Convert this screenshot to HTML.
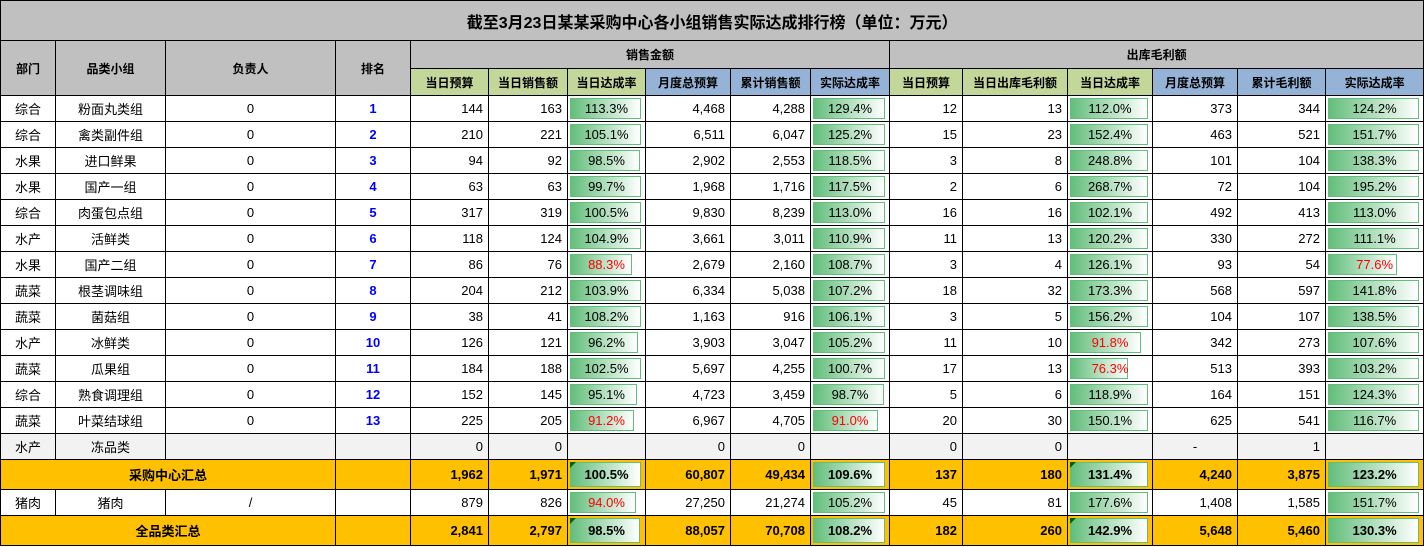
<!DOCTYPE html>
<html><head><meta charset="utf-8">
<style>
html,body{margin:0;padding:0;background:#fff;}
body{width:1424px;height:547px;overflow:hidden;font-family:"Liberation Sans","Noto Sans CJK SC",sans-serif;font-size:13px;color:#000;}
table{border-collapse:collapse;table-layout:fixed;width:1423px;}
td{border:1px solid #000;padding:0 5px;white-space:nowrap;overflow:hidden;box-sizing:border-box;text-align:right;height:26px;}
td.c{text-align:center;}
.t td{height:40px;background:#c0c0c0;font-size:16px;font-weight:bold;text-align:center;}
.h td{background:#c0c0c0;font-weight:bold;text-align:center;font-size:12px;height:28px;}
.h2 td{font-weight:bold;text-align:center;height:27px;font-size:12px;}
.g{background:#c4d79b !important;}
.bl{background:#95b3d7 !important;}
.rk{color:#0000ff;font-weight:bold;text-align:center;}
td.bar{position:relative;text-align:center;}
td.bar i{position:absolute;left:2px;top:2px;bottom:2px;width:calc(100% - 6px);background:linear-gradient(to right,#63be7b,#fff);border:1px solid #63be7b;box-sizing:border-box;}
td.bar span{position:relative;}
.r span{color:#ff0000;}
.gy td{background:#f2f2f2;}
.s td{background:#ffc000;font-weight:bold;height:30px;}
.s td.bar b{position:absolute;left:2px;top:2px;width:0;height:0;border-top:6px solid #006100;border-right:6px solid transparent;}
</style></head><body>
<table>
<colgroup>
<col style="width:55px"><col style="width:110px"><col style="width:170px"><col style="width:75px">
<col style="width:78px"><col style="width:79px"><col style="width:78px"><col style="width:85px"><col style="width:80px"><col style="width:79px">
<col style="width:73px"><col style="width:105px"><col style="width:85px"><col style="width:85px"><col style="width:88px"><col style="width:98px">
</colgroup>
<tr class="t"><td colspan="16">截至3月23日某某采购中心各小组销售实际达成排行榜（单位：万元）</td></tr>
<tr class="h"><td rowspan="2">部门</td><td rowspan="2">品类小组</td><td rowspan="2">负责人</td><td rowspan="2">排名</td><td colspan="6">销售金额</td><td colspan="6">出库毛利额</td></tr>
<tr class="h2"><td class="g">当日预算</td><td class="g">当日销售额</td><td class="g">当日达成率</td><td class="bl">月度总预算</td><td class="bl">累计销售额</td><td class="bl">实际达成率</td><td class="g">当日预算</td><td class="g">当日出库毛利额</td><td class="g">当日达成率</td><td class="bl">月度总预算</td><td class="bl">累计毛利额</td><td class="bl">实际达成率</td></tr>

<tr><td class="c">综合</td><td class="c">粉面丸类组</td><td class="c">0</td><td class="rk">1</td><td>144</td><td>163</td><td class="bar"><i></i><span>113.3%</span></td><td>4,468</td><td>4,288</td><td class="bar"><i></i><span>129.4%</span></td><td>12</td><td>13</td><td class="bar"><i></i><span>112.0%</span></td><td>373</td><td>344</td><td class="bar"><i></i><span>124.2%</span></td></tr>
<tr><td class="c">综合</td><td class="c">禽类副件组</td><td class="c">0</td><td class="rk">2</td><td>210</td><td>221</td><td class="bar"><i></i><span>105.1%</span></td><td>6,511</td><td>6,047</td><td class="bar"><i></i><span>125.2%</span></td><td>15</td><td>23</td><td class="bar"><i></i><span>152.4%</span></td><td>463</td><td>521</td><td class="bar"><i></i><span>151.7%</span></td></tr>
<tr><td class="c">水果</td><td class="c">进口鲜果</td><td class="c">0</td><td class="rk">3</td><td>94</td><td>92</td><td class="bar"><i style="width:calc(98.5% - 6px)"></i><span>98.5%</span></td><td>2,902</td><td>2,553</td><td class="bar"><i></i><span>118.5%</span></td><td>3</td><td>8</td><td class="bar"><i></i><span>248.8%</span></td><td>101</td><td>104</td><td class="bar"><i></i><span>138.3%</span></td></tr>
<tr><td class="c">水果</td><td class="c">国产一组</td><td class="c">0</td><td class="rk">4</td><td>63</td><td>63</td><td class="bar"><i style="width:calc(99.7% - 6px)"></i><span>99.7%</span></td><td>1,968</td><td>1,716</td><td class="bar"><i></i><span>117.5%</span></td><td>2</td><td>6</td><td class="bar"><i></i><span>268.7%</span></td><td>72</td><td>104</td><td class="bar"><i></i><span>195.2%</span></td></tr>
<tr><td class="c">综合</td><td class="c">肉蛋包点组</td><td class="c">0</td><td class="rk">5</td><td>317</td><td>319</td><td class="bar"><i></i><span>100.5%</span></td><td>9,830</td><td>8,239</td><td class="bar"><i></i><span>113.0%</span></td><td>16</td><td>16</td><td class="bar"><i></i><span>102.1%</span></td><td>492</td><td>413</td><td class="bar"><i></i><span>113.0%</span></td></tr>
<tr><td class="c">水产</td><td class="c">活鲜类</td><td class="c">0</td><td class="rk">6</td><td>118</td><td>124</td><td class="bar"><i></i><span>104.9%</span></td><td>3,661</td><td>3,011</td><td class="bar"><i></i><span>110.9%</span></td><td>11</td><td>13</td><td class="bar"><i></i><span>120.2%</span></td><td>330</td><td>272</td><td class="bar"><i></i><span>111.1%</span></td></tr>
<tr><td class="c">水果</td><td class="c">国产二组</td><td class="c">0</td><td class="rk">7</td><td>86</td><td>76</td><td class="bar r"><i style="width:calc(88.3% - 6px)"></i><span>88.3%</span></td><td>2,679</td><td>2,160</td><td class="bar"><i></i><span>108.7%</span></td><td>3</td><td>4</td><td class="bar"><i></i><span>126.1%</span></td><td>93</td><td>54</td><td class="bar r"><i style="width:calc(77.6% - 6px)"></i><span>77.6%</span></td></tr>
<tr><td class="c">蔬菜</td><td class="c">根茎调味组</td><td class="c">0</td><td class="rk">8</td><td>204</td><td>212</td><td class="bar"><i></i><span>103.9%</span></td><td>6,334</td><td>5,038</td><td class="bar"><i></i><span>107.2%</span></td><td>18</td><td>32</td><td class="bar"><i></i><span>173.3%</span></td><td>568</td><td>597</td><td class="bar"><i></i><span>141.8%</span></td></tr>
<tr><td class="c">蔬菜</td><td class="c">菌菇组</td><td class="c">0</td><td class="rk">9</td><td>38</td><td>41</td><td class="bar"><i></i><span>108.2%</span></td><td>1,163</td><td>916</td><td class="bar"><i></i><span>106.1%</span></td><td>3</td><td>5</td><td class="bar"><i></i><span>156.2%</span></td><td>104</td><td>107</td><td class="bar"><i></i><span>138.5%</span></td></tr>
<tr><td class="c">水产</td><td class="c">冰鲜类</td><td class="c">0</td><td class="rk">10</td><td>126</td><td>121</td><td class="bar"><i style="width:calc(96.2% - 6px)"></i><span>96.2%</span></td><td>3,903</td><td>3,047</td><td class="bar"><i></i><span>105.2%</span></td><td>11</td><td>10</td><td class="bar r"><i style="width:calc(91.8% - 6px)"></i><span>91.8%</span></td><td>342</td><td>273</td><td class="bar"><i></i><span>107.6%</span></td></tr>
<tr><td class="c">蔬菜</td><td class="c">瓜果组</td><td class="c">0</td><td class="rk">11</td><td>184</td><td>188</td><td class="bar"><i></i><span>102.5%</span></td><td>5,697</td><td>4,255</td><td class="bar"><i></i><span>100.7%</span></td><td>17</td><td>13</td><td class="bar r"><i style="width:calc(76.3% - 6px)"></i><span>76.3%</span></td><td>513</td><td>393</td><td class="bar"><i></i><span>103.2%</span></td></tr>
<tr><td class="c">综合</td><td class="c">熟食调理组</td><td class="c">0</td><td class="rk">12</td><td>152</td><td>145</td><td class="bar"><i style="width:calc(95.1% - 6px)"></i><span>95.1%</span></td><td>4,723</td><td>3,459</td><td class="bar"><i style="width:calc(98.7% - 6px)"></i><span>98.7%</span></td><td>5</td><td>6</td><td class="bar"><i></i><span>118.9%</span></td><td>164</td><td>151</td><td class="bar"><i></i><span>124.3%</span></td></tr>
<tr><td class="c">蔬菜</td><td class="c">叶菜结球组</td><td class="c">0</td><td class="rk">13</td><td>225</td><td>205</td><td class="bar r"><i style="width:calc(91.2% - 6px)"></i><span>91.2%</span></td><td>6,967</td><td>4,705</td><td class="bar r"><i style="width:calc(91% - 6px)"></i><span>91.0%</span></td><td>20</td><td>30</td><td class="bar"><i></i><span>150.1%</span></td><td>625</td><td>541</td><td class="bar"><i></i><span>116.7%</span></td></tr>
<tr class="gy"><td class="c">水产</td><td class="c">冻品类</td><td></td><td></td><td>0</td><td>0</td><td></td><td>0</td><td>0</td><td></td><td>0</td><td>0</td><td></td><td class="c">-</td><td>1</td><td></td></tr>
<tr class="s"><td class="c" colspan="3">采购中心汇总</td><td></td><td>1,962</td><td>1,971</td><td class="bar"><i></i><b></b><span>100.5%</span></td><td>60,807</td><td>49,434</td><td class="bar"><i></i><span>109.6%</span></td><td>137</td><td>180</td><td class="bar"><i></i><b></b><span>131.4%</span></td><td>4,240</td><td>3,875</td><td class="bar"><i></i><span>123.2%</span></td></tr>
<tr><td class="c">猪肉</td><td class="c">猪肉</td><td class="c">/</td><td></td><td>879</td><td>826</td><td class="bar r"><i style="width:calc(94% - 6px)"></i><span>94.0%</span></td><td>27,250</td><td>21,274</td><td class="bar"><i></i><span>105.2%</span></td><td>45</td><td>81</td><td class="bar"><i></i><span>177.6%</span></td><td>1,408</td><td>1,585</td><td class="bar"><i></i><span>151.7%</span></td></tr>
<tr class="s"><td class="c" colspan="3">全品类汇总</td><td></td><td>2,841</td><td>2,797</td><td class="bar"><i style="width:calc(98.5% - 6px)"></i><b></b><span>98.5%</span></td><td>88,057</td><td>70,708</td><td class="bar"><i></i><span>108.2%</span></td><td>182</td><td>260</td><td class="bar"><i></i><b></b><span>142.9%</span></td><td>5,648</td><td>5,460</td><td class="bar"><i></i><span>130.3%</span></td></tr>
</table>
</body></html>
